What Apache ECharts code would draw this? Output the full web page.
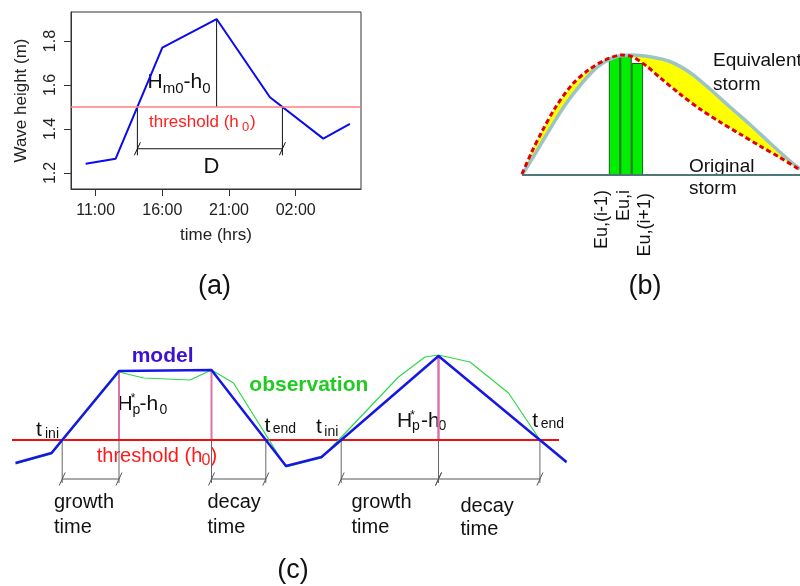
<!DOCTYPE html>
<html>
<head>
<meta charset="utf-8">
<script src="https://cdn.jsdelivr.net/npm/echarts@6/dist/echarts.min.js"></script>
<style>
  html, body { margin: 0; padding: 0; background: #fff; }
  #chart { width: 800px; height: 586px; }
</style>
</head>
<body>
<div id="chart"></div>
<script>
// ---------- (a) a single storm: wave height against time ----------
const WAVE_T = [-0.75, 1.5, 5.0, 9.07, 13.07, 17.07, 19.07];   // hours after 11:00
const WAVE_H = [1.242, 1.265, 1.770, 1.900, 1.544, 1.356, 1.423]; // m
const THRESHOLD_A = 1.5;
const D_LEVEL = 1.31;      // height of the duration bracket
const D_FOOT = 1.28;       // lower end of the bracket legs
const X_TICKS = [0, 5, 10, 15];
const X_TICK_LABELS = ['11:00', '16:00', '21:00', '02:00'];
const Y_TICKS = [1.2, 1.4, 1.6, 1.8];

// ---------- (b) original storm and its equivalent storm ----------
const EQUIV_X = [0, 4.7, 9.4, 15.5, 21.6, 27.3, 33.5, 39.6, 46.0, 53.2, 60.4, 67.6, 74.8, 82.0, 89.2, 96.4, 100];
const EQUIV_Y = [0, 0.21, 0.43, 0.70, 0.92, 1.085, 1.18, 1.20, 1.182, 1.135, 1.025, 0.86, 0.68, 0.505, 0.32, 0.14, 0.06];
const ORIG_X = [0, 3.5, 7.1, 11.9, 17.9, 23.9, 29.9, 35.9, 39.9, 45.0, 49.6, 56.8, 64.0, 71.2, 78.4, 85.6, 92.8, 100];
const ORIG_Y = [0.01, 0.23, 0.43, 0.67, 0.90, 1.05, 1.15, 1.20, 1.18, 1.085, 0.975, 0.81, 0.66, 0.53, 0.41, 0.29, 0.175, 0.05];
const BAR_X = [33.3, 37.4, 41.5];
const BAR_H = [1.18, 1.20, 1.12];
const BAR_LABELS = ['Eu,(i-1)', 'Eu,i', 'Eu,(i+1)'];

// ---------- (c) model against observation for two storms ----------
const MODEL_X = [0.7, 7.9, 21.4, 39.9, 54.8, 61.9, 85.3, 110.9];
const MODEL_Y = [1.27, 1.37, 2.19, 2.20, 1.24, 1.33, 2.34, 1.28];
const OBS_X = [0.7, 7.9, 21.4, 26.3, 35.6, 39.9, 44.3, 54.8, 61.9, 77.3, 82.6, 85.3, 91.6, 99.3, 105.6, 110.9];
const OBS_Y = [1.26, 1.36, 2.18, 2.12, 2.10, 2.20, 2.07, 1.23, 1.32, 2.13, 2.33, 2.35, 2.28, 1.97, 1.50, 1.27];
const THRESHOLD_C = 1.5;
const THRESHOLD_C_EXTENT = [0, 109.4];
const MODEL_PEAKS = [[2, 3], [6, 6]];   // first/last index of each modelled peak
const BRACKET_C = 1.11;
const FOOT_C = 1.07;

const FF = '"Liberation Sans", Arial, Helvetica, sans-serif';
const zip = (xs, ys) => xs.map((x, i) => [x, ys[i]]);

// x positions where a polyline crosses a horizontal level
function crossings(pts, level) {
  const out = [];
  for (let i = 0; i < pts.length - 1; i++) {
    const a = pts[i], b = pts[i + 1];
    if ((a[1] - level) * (b[1] - level) < 0) {
      out.push(a[0] + (level - a[1]) * (b[0] - a[0]) / (b[1] - a[1]));
    }
  }
  return out;
}

const wave = zip(WAVE_T, WAVE_H);
const crossA = crossings(wave, THRESHOLD_A);
const peakA = wave.reduce((m, p) => (p[1] > m[1] ? p : m), wave[0]);

const model = zip(MODEL_X, MODEL_Y);
const crossC = crossings(model, THRESHOLD_C);

// ---------- helpers ----------
function vlines(xi, yi, data, color, width) {
  return {
    type: 'custom', xAxisIndex: xi, yAxisIndex: yi, data, silent: true,
    renderItem: (p, api) => {
      const a = api.coord([api.value(0), api.value(1)]);
      const b = api.coord([api.value(0), api.value(2)]);
      return { type: 'line', shape: { x1: a[0], y1: a[1], x2: b[0], y2: b[1] },
               style: { stroke: color, lineWidth: width } };
    }
  };
}

function brackets(xi, yi, data, color) {
  return {
    type: 'custom', xAxisIndex: xi, yAxisIndex: yi, data, silent: true,
    renderItem: (p, api) => {
      const a = api.coord([api.value(0), api.value(2)]);
      const b = api.coord([api.value(1), api.value(2)]);
      const st = { stroke: color, lineWidth: 1 };
      const slash = (c) => ({ type: 'line', shape: { x1: c[0] - 3, y1: c[1] + 6.5, x2: c[0] + 3, y2: c[1] - 6.5 }, style: st });
      return { type: 'group', children: [
        { type: 'line', shape: { x1: a[0], y1: a[1], x2: b[0], y2: b[1] }, style: st },
        slash(a), slash(b)
      ] };
    }
  };
}

const mctx = document.createElement('canvas').getContext('2d');
function fontStr(size, weight) { return (weight || 'normal') + ' ' + size + 'px ' + FF; }
function midOffset(size, weight) {
  mctx.font = fontStr(size, weight);
  mctx.textBaseline = 'middle';
  const m = mctx.measureText('Hg');
  return (typeof m.alphabeticBaseline === 'number') ? -m.alphabeticBaseline : 0.3465 * size;
}
// text pieces laid out along a baseline; each piece: {t, s, x?, b?}
function flow(pieces, x0, base, color, weight) {
  const els = [];
  let cx = x0;
  pieces.forEach(pc => {
    if (pc.x !== undefined) cx = pc.x;
    const b = pc.b !== undefined ? pc.b : base;
    const f = fontStr(pc.s, weight);
    els.push({ type: 'text', x: cx, y: b - midOffset(pc.s, weight), silent: true,
      style: { text: pc.t, font: f, fill: color, align: 'left', verticalAlign: 'middle',
               textAlign: 'left', textVerticalAlign: 'middle' } });
    mctx.font = f;
    cx += mctx.measureText(pc.t).width;
  });
  return els;
}
function label(t, x, base, size, color, align, weight) {
  const f = fontStr(size, weight);
  return { type: 'text', x, y: base - midOffset(size, weight), silent: true,
    style: { text: t, font: f, fill: color || '#111', align: align || 'left', verticalAlign: 'middle',
             textAlign: align || 'left', textVerticalAlign: 'middle' } };
}
function vlabel(t, x, top, size) {
  const f = fontStr(size);
  return { type: 'text', x, y: top, rotation: Math.PI / 2, silent: true,
    style: { text: t, font: f, fill: '#111', align: 'right', verticalAlign: 'middle',
             textAlign: 'right', textVerticalAlign: 'middle' } };
}

const BLACK = '#111';
const graphics = [].concat(
  // (a)
  flow([{ t: 'H', s: 21 }, { t: 'm0', s: 15, b: 92.7 }, { t: '-h', s: 21 }, { t: '0', s: 15, b: 92.7 }], 147.5, 88.3, BLACK),
  flow([{ t: 'threshold (h', s: 17 }, { t: '0', s: 13, b: 130.7, x: 242 }, { t: ')', s: 17, x: 250 }], 149, 127.3, '#ff2020'),
  [label('D', 203.5, 172.7, 22, BLACK)],
  [label('(a)', 214.5, 294.3, 27, BLACK, 'center')],
  // (b)
  [label('Equivalent', 713, 66, 19), label('storm', 713, 90, 19),
   label('Original', 689, 171.7, 19), label('storm', 689, 194.3, 19),
   vlabel(BAR_LABELS[0], 602.3, 190, 18), vlabel(BAR_LABELS[1], 624.5, 190, 18), vlabel(BAR_LABELS[2], 644.8, 193, 18),
   label('(b)', 645, 294.3, 27, BLACK, 'center')],
  // (c)
  [label('model', 131.7, 362.3, 21, '#3b12d4', 'left', 'bold'),
   label('observation', 249.3, 391, 21, '#1fcc1f', 'left', 'bold')],
  flow([{ t: 'H', s: 21 }, { t: '*', s: 12, x: 130.8, b: 402 }, { t: 'p', s: 14, x: 132.6, b: 413.5 },
        { t: '-h', s: 21, x: 139.5 }, { t: '0', s: 14, x: 159.5, b: 413.5 }], 117.5, 410, BLACK),
  flow([{ t: 'H', s: 21 }, { t: '*', s: 12, x: 410.3, b: 418.5 }, { t: 'p', s: 14, x: 412, b: 430 },
        { t: '-h', s: 21, x: 421 }, { t: '0', s: 14, x: 438.5, b: 430 }], 397, 426.7, BLACK),
  flow([{ t: 't', s: 21 }, { t: 'ini', s: 14, x: 45, b: 438.3 }], 36, 436, BLACK),
  flow([{ t: 't', s: 21 }, { t: 'ini', s: 14, x: 324.3, b: 436 }], 316, 433.3, BLACK),
  flow([{ t: 't', s: 21 }, { t: 'end', s: 14, x: 272.7, b: 433.3 }], 264.5, 431.7, BLACK),
  flow([{ t: 't', s: 21 }, { t: 'end', s: 14, x: 540.7, b: 428.3 }], 532.2, 426.7, BLACK),
  flow([{ t: 'threshold (h', s: 20 }, { t: '0', s: 16, x: 201.5, b: 465 }, { t: ')', s: 20, x: 210.5 }], 96.7, 461.7, '#ff1a1a'),
  [label('growth', 54, 508.3, 20), label('time', 54, 533.3, 20),
   label('decay', 207.5, 508.3, 20), label('time', 207.5, 533.3, 20),
   label('growth', 351.5, 508.3, 20), label('time', 351.5, 533.3, 20),
   label('decay', 460.5, 511.7, 20), label('time', 460.5, 535, 20),
   label('(c)', 293, 578, 27, BLACK, 'center')]
);

const hidden = { show: false };
const option = {
  animation: false,
  backgroundColor: '#fff',
  textStyle: { fontFamily: FF },
  grid: [
    { left: 71, top: 12, width: 290, height: 177, show: true, borderColor: '#333', borderWidth: 1 },
    { left: 522, top: 40, width: 278, height: 135 },
    { left: 12, top: 340, width: 555, height: 160 }
  ],
  xAxis: [
    { gridIndex: 0, type: 'value', min: -1.85, max: 19.9,
      axisLine: { show: true, onZero: false, lineStyle: { color: '#333' } },
      axisTick: { show: true, length: 7, customValues: X_TICKS, lineStyle: { color: '#333' } },
      axisLabel: { customValues: X_TICKS, formatter: v => X_TICK_LABELS[X_TICKS.indexOf(v)],
                   fontSize: 16, color: '#222', margin: 14, fontFamily: FF },
      splitLine: hidden,
      name: 'time (hrs)', nameLocation: 'middle', nameGap: 38,
      nameTextStyle: { fontSize: 17, color: '#222', fontFamily: FF } },
    { gridIndex: 1, type: 'value', min: 0, max: 100, show: false },
    { gridIndex: 2, type: 'value', min: 0, max: 111, show: false }
  ],
  yAxis: [
    { gridIndex: 0, type: 'value', min: 1.127, max: 1.932,
      axisLine: { show: true, onZero: false, lineStyle: { color: '#333' } },
      axisTick: { show: true, length: 7, customValues: Y_TICKS, lineStyle: { color: '#333' } },
      axisLabel: { customValues: Y_TICKS, formatter: v => v.toFixed(1), rotate: 90,
                   fontSize: 16, color: '#222', margin: 12, fontFamily: FF },
      splitLine: hidden,
      name: 'Wave height (m)', nameLocation: 'middle', nameRotate: 90, nameGap: 41,
      nameTextStyle: { fontSize: 17, color: '#222', fontFamily: FF } },
    { gridIndex: 1, type: 'value', min: 0, max: 1.35, show: false },
    { gridIndex: 2, type: 'value', min: 0.9, max: 2.5, show: false }
  ],
  series: [
    // (a)
    { type: 'line', xAxisIndex: 0, yAxisIndex: 0, data: wave, symbol: 'none',
      lineStyle: { color: '#0a0aee', width: 2 },
      markLine: { silent: true, symbol: 'none', label: { show: false },
                  lineStyle: { color: '#ff8080', width: 1.5, type: 'solid' },
                  data: [{ yAxis: THRESHOLD_A }] } },
    vlines(0, 0, [[peakA[0], THRESHOLD_A, peakA[1]], [crossA[0], THRESHOLD_A, D_FOOT], [crossA[1], THRESHOLD_A, D_FOOT]], BLACK, 1),
    brackets(0, 0, [[crossA[0], crossA[1], D_LEVEL]], BLACK),
    // (b) area between the two storm shapes
    { type: 'custom', xAxisIndex: 1, yAxisIndex: 1, data: [[0, 0]], silent: true, clip: false,
      renderItem: (p, api) => {
        const pts = zip(EQUIV_X, EQUIV_Y).map(q => api.coord(q))
          .concat(zip(ORIG_X, ORIG_Y).reverse().map(q => api.coord(q)));
        return { type: 'polygon', shape: { points: pts }, style: { fill: '#ffff00', stroke: null } };
      } },
    { type: 'line', xAxisIndex: 1, yAxisIndex: 1, data: zip(EQUIV_X, EQUIV_Y), symbol: 'none', smooth: 0.3, clip: false,
      lineStyle: { color: '#9dc4c4', width: 3.5 } },
    { type: 'line', xAxisIndex: 1, yAxisIndex: 1, data: zip(ORIG_X, ORIG_Y), symbol: 'none', smooth: 0.3, clip: false,
      lineStyle: { color: '#e00000', width: 3, type: [5, 3] } },
    { type: 'bar', xAxisIndex: 1, yAxisIndex: 1, data: zip(BAR_X, BAR_H), barWidth: 11.5,
      itemStyle: { color: '#00ee00', borderColor: '#1a5e1a', borderWidth: 1 } },
    { type: 'line', xAxisIndex: 1, yAxisIndex: 1, data: [[0, 0], [100, 0]], symbol: 'none', clip: false,
      lineStyle: { color: '#4c7878', width: 2 } },
    // (c)
    { type: 'line', xAxisIndex: 2, yAxisIndex: 2, data: THRESHOLD_C_EXTENT.map(x => [x, THRESHOLD_C]), symbol: 'none',
      lineStyle: { color: '#ee1111', width: 2 } },
    vlines(2, 2, MODEL_PEAKS.flatMap(([i, j]) => [[MODEL_X[i], THRESHOLD_C, MODEL_Y[i]], [MODEL_X[j], THRESHOLD_C, MODEL_Y[j]]]), '#dc72aa', 2),
    vlines(2, 2, crossC.concat(MODEL_PEAKS.flatMap(([i, j]) => [MODEL_X[i], MODEL_X[j]])).map(x => [x, THRESHOLD_C, FOOT_C]), '#666', 1),
    brackets(2, 2, [
      [crossC[0], MODEL_X[MODEL_PEAKS[0][0]], BRACKET_C],
      [MODEL_X[MODEL_PEAKS[0][1]], crossC[1], BRACKET_C],
      [crossC[2], MODEL_X[MODEL_PEAKS[1][0]], BRACKET_C],
      [MODEL_X[MODEL_PEAKS[1][1]], crossC[3], BRACKET_C]
    ], '#555'),
    { type: 'line', xAxisIndex: 2, yAxisIndex: 2, data: zip(OBS_X, OBS_Y), symbol: 'none',
      lineStyle: { color: '#2fd84a', width: 1.2 } },
    { type: 'line', xAxisIndex: 2, yAxisIndex: 2, data: model, symbol: 'none',
      lineStyle: { color: '#1616e6', width: 2.5 } }
  ],
  graphic: { elements: graphics }
};

const chart = echarts.init(document.getElementById('chart'), null, { renderer: 'canvas' });
chart.setOption(option);
</script>
</body>
</html>
